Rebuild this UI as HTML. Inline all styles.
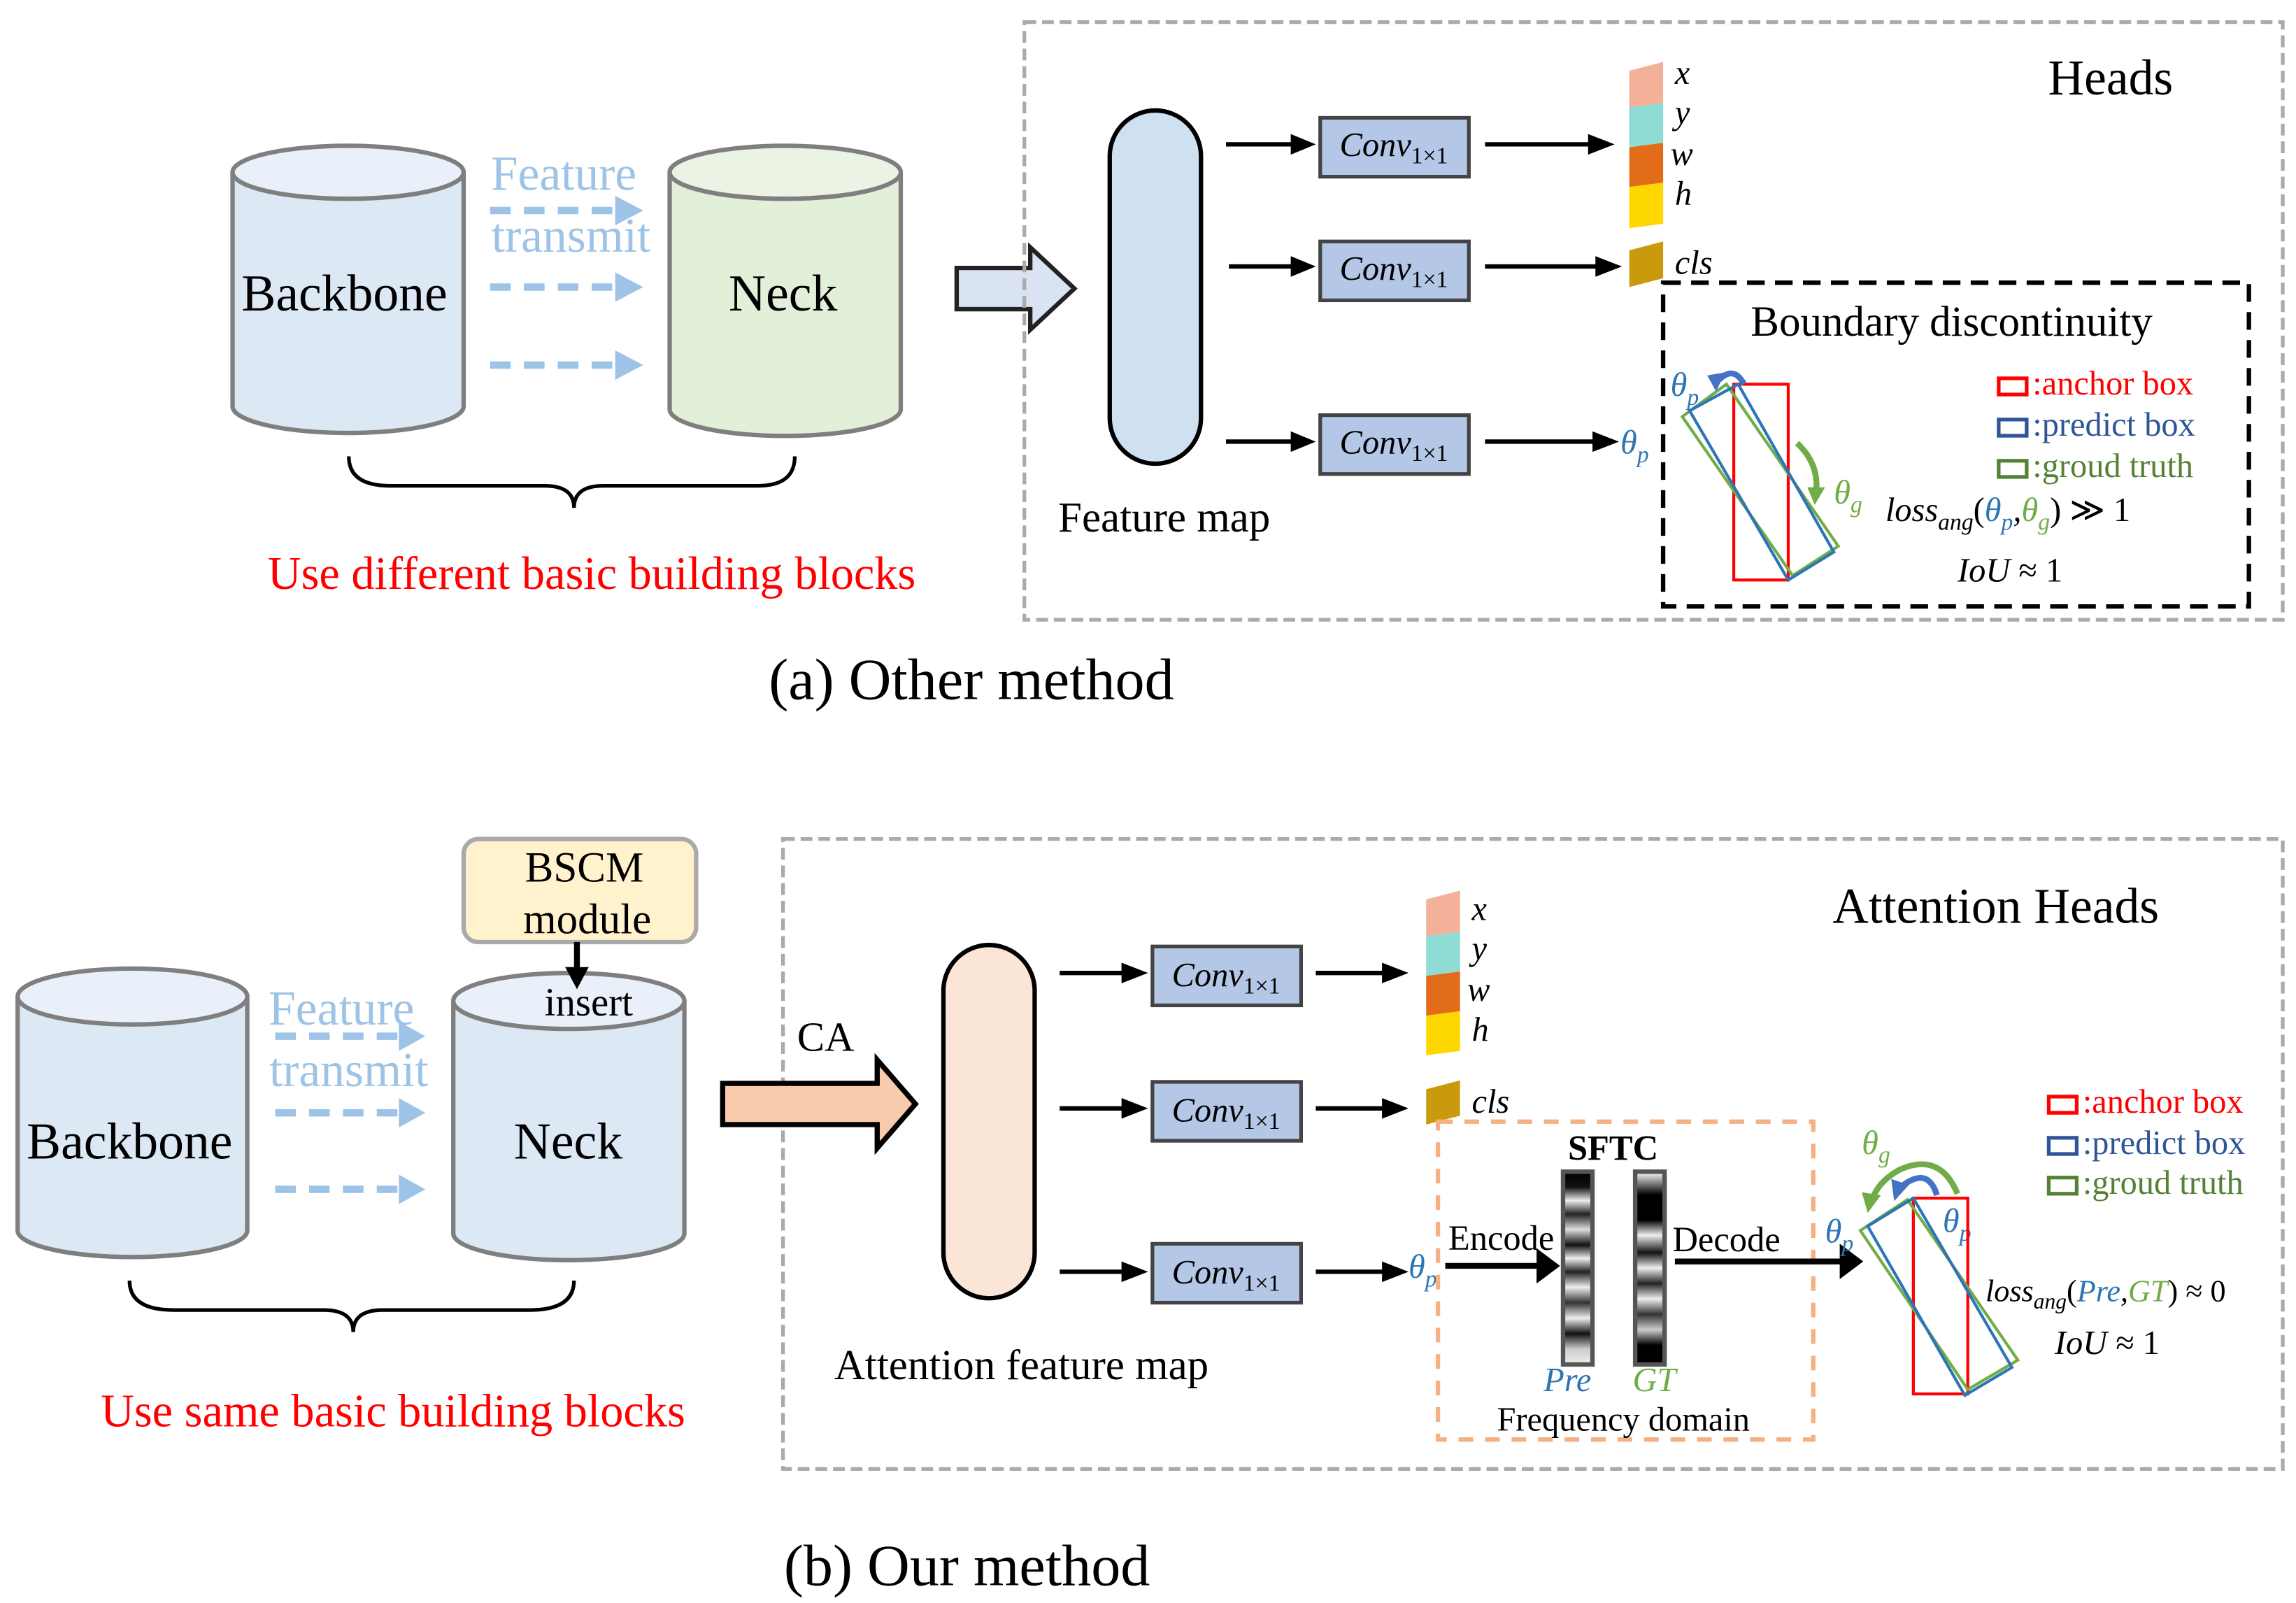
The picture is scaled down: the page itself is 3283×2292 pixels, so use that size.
<!DOCTYPE html>
<html><head><meta charset="utf-8"><style>html,body{margin:0;padding:0;background:#fff}svg{display:block}text{font-family:"Liberation Serif",serif}</style></head><body>
<svg width="3283" height="2292" viewBox="0 0 1560 1089" xmlns="http://www.w3.org/2000/svg">
<defs>
<linearGradient id="pre" x1="0" y1="0" x2="0" y2="1">
<stop offset="0" stop-color="#000"/><stop offset="0.08" stop-color="#111"/><stop offset="0.15" stop-color="#eee"/><stop offset="0.22" stop-color="#222"/><stop offset="0.3" stop-color="#ddd"/><stop offset="0.38" stop-color="#111"/><stop offset="0.45" stop-color="#eee"/><stop offset="0.52" stop-color="#222"/><stop offset="0.6" stop-color="#eee"/><stop offset="0.68" stop-color="#333"/><stop offset="0.76" stop-color="#eee"/><stop offset="0.84" stop-color="#111"/><stop offset="0.92" stop-color="#ccc"/><stop offset="1" stop-color="#eee"/></linearGradient>
<linearGradient id="gt" x1="0" y1="0" x2="0" y2="1">
<stop offset="0" stop-color="#fff"/><stop offset="0.12" stop-color="#000"/><stop offset="0.25" stop-color="#000"/><stop offset="0.33" stop-color="#eee"/><stop offset="0.42" stop-color="#111"/><stop offset="0.5" stop-color="#eee"/><stop offset="0.58" stop-color="#222"/><stop offset="0.66" stop-color="#eee"/><stop offset="0.74" stop-color="#333"/><stop offset="0.82" stop-color="#ccc"/><stop offset="0.9" stop-color="#000"/><stop offset="1" stop-color="#000"/></linearGradient>
</defs>

<!-- ========== (a) ========== -->
<g stroke="#7f7f7f" stroke-width="3">
<path d="M158,117 V276 A78,18 0 0 0 315,276 V117" fill="#dde8f5"/>
<ellipse cx="236.5" cy="117" rx="78.5" ry="18" fill="#e9f0f9"/>
<path d="M455,117 V278 A78,18 0 0 0 612,278 V117" fill="#e2efd9"/>
<ellipse cx="533.5" cy="117" rx="78.5" ry="18" fill="#ebf3e5"/>
</g>
<text x="234" y="211" font-size="35" text-anchor="middle">Backbone</text>
<text x="532" y="211" font-size="35" text-anchor="middle">Neck</text>
<g stroke="#9dc3e6" stroke-width="5" stroke-dasharray="14,9"><line x1="333" y1="143" x2="420" y2="143"/><line x1="333" y1="195" x2="420" y2="195"/><line x1="333" y1="248" x2="420" y2="248"/></g>
<g fill="#9dc3e6"><path d="M418,133 L437,143 L418,153Z"/><path d="M418,185 L437,195 L418,205Z"/><path d="M418,238 L437,248 L418,258Z"/></g>
<text x="383" y="129" font-size="33" fill="#9dc3e6" text-anchor="middle">Feature</text>
<text x="388" y="171" font-size="33" fill="#9dc3e6" text-anchor="middle">transmit</text>
<path d="M237,310 Q237,330 265,330 L370,330 Q390,330 390,345 Q390,330 410,330 L515,330 Q540,330 540,310" fill="none" stroke="#000" stroke-width="2.5"/>
<text x="402" y="400" font-size="31.5" fill="#ff0000" text-anchor="middle">Use different basic building blocks</text>
<path d="M650,182 L700,182 L700,168 L730,196 L700,224 L700,210 L650,210Z" fill="#dae3f3" stroke="#222" stroke-width="3"/>
<rect x="696" y="15" width="855" height="406" fill="none" stroke="#aaa" stroke-width="2.5" stroke-dasharray="8,4"/>
<text x="1434" y="64" font-size="34" text-anchor="middle">Heads</text>
<rect x="754" y="75" width="62" height="240" rx="31" fill="#cfe0f1" stroke="#000" stroke-width="3"/>
<text x="791" y="361" font-size="29" text-anchor="middle">Feature map</text>
<g fill="#b4c7e7" stroke="#444" stroke-width="2.5">
<rect x="897" y="80" width="101" height="40"/><rect x="897" y="164" width="101" height="40"/><rect x="897" y="282" width="101" height="40"/></g>
<g font-size="23" font-style="italic" text-anchor="middle">
<text x="947" y="106">Conv<tspan font-size="16" font-style="normal" dy="5">1×1</tspan></text>
<text x="947" y="190">Conv<tspan font-size="16" font-style="normal" dy="5">1×1</tspan></text>
<text x="947" y="308">Conv<tspan font-size="16" font-style="normal" dy="5">1×1</tspan></text></g>
<g stroke="#000" stroke-width="3"><line x1="833" y1="98" x2="880" y2="98"/><line x1="835" y1="181" x2="880" y2="181"/><line x1="833" y1="300" x2="880" y2="300"/><line x1="1009" y1="98" x2="1082" y2="98"/><line x1="1009" y1="181" x2="1087" y2="181"/><line x1="1009" y1="300" x2="1085" y2="300"/></g>
<g fill="#000"><path d="M877,91 L894,98 L877,105Z"/><path d="M877,174 L894,181 L877,188Z"/><path d="M877,293 L894,300 L877,307Z"/><path d="M1079,91 L1097,98 L1079,105Z"/><path d="M1084,174 L1102,181 L1084,188Z"/><path d="M1082,293 L1100,300 L1082,307Z"/></g>
<path d="M1107,48 L1130,42 L1130,70 L1107,73Z" fill="#f4b19a"/>
<path d="M1107,73 L1130,70 L1130,97 L1107,100Z" fill="#8fdcd5"/>
<path d="M1107,100 L1130,97 L1130,124 L1107,127Z" fill="#e36c1a"/>
<path d="M1107,127 L1130,124 L1130,152 L1107,155Z" fill="#ffd700"/>
<path d="M1107,170 L1130,164 L1130,189 L1107,195Z" fill="#c99a0e"/>
<g font-size="23" font-style="italic"><text x="1138" y="57">x</text><text x="1138" y="84">y</text><text x="1135" y="112">w</text><text x="1138" y="139">h</text><text x="1138" y="186">cls</text></g>
<text x="1101" y="308" font-size="23" font-style="italic" fill="#2e75b6">θ<tspan font-size="16" dy="6">p</tspan></text>
<rect x="1130" y="192" width="398" height="220" fill="none" stroke="#000" stroke-width="3" stroke-dasharray="12,7"/>
<text x="1326" y="228" font-size="29" text-anchor="middle">Boundary discontinuity</text>
<rect x="1178" y="261" width="37" height="133" fill="none" stroke="#ff0000" stroke-width="2"/>
<polygon points="1143,283 1173,261 1249,371 1218,391" fill="none" stroke="#70ad47" stroke-width="2"/>
<polygon points="1148,279 1181,261 1246,375 1215,394" fill="none" stroke="#2e75b6" stroke-width="2"/>
<path d="M1185,261 Q1178,248 1168,258" fill="none" stroke="#4472c4" stroke-width="4"/>
<path d="M1160,255 L1172,253 L1166,266Z" fill="#4472c4"/>
<path d="M1221,301 Q1236,315 1234,334" fill="none" stroke="#70ad47" stroke-width="4"/>
<path d="M1228,331 L1240,331 L1233,343Z" fill="#70ad47"/>
<text x="1135" y="269" font-size="23" font-style="italic" fill="#2e75b6">θ<tspan font-size="16" dy="6">p</tspan></text>
<text x="1246" y="342" font-size="23" font-style="italic" fill="#70ad47">θ<tspan font-size="16" dy="6">g</tspan></text>
<g stroke-width="2.5" fill="none"><rect x="1358" y="257" width="19" height="11" stroke="#ff0000"/><rect x="1358" y="285" width="19" height="11" stroke="#2f5597"/><rect x="1358" y="313" width="19" height="11" stroke="#548235"/></g>
<g font-size="23"><text x="1381" y="268" fill="#ff0000">:anchor box</text><text x="1381" y="296" fill="#2f5597">:predict box</text><text x="1381" y="324" fill="#548235">:groud truth</text></g>
<text x="1281" y="354" font-size="23" font-style="italic">loss<tspan font-size="16" dy="6">ang</tspan><tspan dy="-6" font-style="normal">(</tspan><tspan fill="#2e75b6">θ</tspan><tspan fill="#2e75b6" font-size="16" dy="6">p</tspan><tspan dy="-6">,</tspan><tspan fill="#70ad47">θ</tspan><tspan fill="#70ad47" font-size="16" dy="6">g</tspan><tspan dy="-6" font-style="normal">) ≫ 1</tspan></text>
<text x="1330" y="395" font-size="23" font-style="italic">IoU <tspan font-style="normal">≈ 1</tspan></text>
<text x="660" y="475" font-size="40" text-anchor="middle">(a) Other method</text>

<!-- ========== (b) ========== -->
<rect x="532" y="570" width="1019" height="428" fill="none" stroke="#aaa" stroke-width="2.5" stroke-dasharray="8,4"/>
<g stroke="#7f7f7f" stroke-width="3">
<path d="M12,677 V836 A78,18 0 0 0 168,836 V677" fill="#dde8f5"/>
<ellipse cx="90" cy="677" rx="78" ry="19" fill="#e9f0f9"/>
<path d="M308,680 V838 A78,18 0 0 0 465,838 V680" fill="#dde8f5"/>
<ellipse cx="386.5" cy="680" rx="78.5" ry="19" fill="#e9f0f9"/>
</g>
<rect x="315" y="570" width="158" height="70" rx="10" fill="#fff2cc" stroke="#aaa" stroke-width="3"/>
<text x="397" y="599" font-size="29" text-anchor="middle">BSCM</text>
<text x="399" y="634" font-size="29" text-anchor="middle">module</text>
<line x1="392" y1="640" x2="392" y2="660" stroke="#000" stroke-width="4"/>
<path d="M384,657 L392,672 L400,657Z" fill="#000"/>
<text x="400" y="690" font-size="27" text-anchor="middle">insert</text>
<text x="88" y="787" font-size="35" text-anchor="middle">Backbone</text>
<text x="386" y="787" font-size="35" text-anchor="middle">Neck</text>
<g stroke="#9dc3e6" stroke-width="5" stroke-dasharray="14,9"><line x1="187" y1="704" x2="272" y2="704"/><line x1="187" y1="756" x2="272" y2="756"/><line x1="187" y1="808" x2="272" y2="808"/></g>
<g fill="#9dc3e6"><path d="M271,694 L289,704 L271,714Z"/><path d="M271,746 L289,756 L271,766Z"/><path d="M271,798 L289,808 L271,818Z"/></g>
<text x="232" y="696" font-size="33" fill="#9dc3e6" text-anchor="middle">Feature</text>
<text x="237" y="738" font-size="33" fill="#9dc3e6" text-anchor="middle">transmit</text>
<path d="M88,870 Q88,890 118,890 L220,890 Q240,890 240,905 Q240,890 260,890 L360,890 Q390,890 390,870" fill="none" stroke="#000" stroke-width="2.5"/>
<text x="267" y="969" font-size="31.5" fill="#ff0000" text-anchor="middle">Use same basic building blocks</text>
<path d="M491,736 L596,736 L596,720 L622,750 L596,780 L596,764 L491,764Z" fill="#f8cbad" stroke="#000" stroke-width="3.5"/>
<text x="561" y="714" font-size="28" text-anchor="middle">CA</text>
<rect x="641" y="642" width="62" height="240" rx="31" fill="#fbe5d6" stroke="#000" stroke-width="3"/>
<text x="694" y="937" font-size="29" text-anchor="middle">Attention feature map</text>
<text x="1356" y="627" font-size="34" text-anchor="middle">Attention Heads</text>
<g fill="#b4c7e7" stroke="#444" stroke-width="2.5">
<rect x="783" y="643" width="101" height="40"/><rect x="783" y="735" width="101" height="40"/><rect x="783" y="845" width="101" height="40"/></g>
<g font-size="23" font-style="italic" text-anchor="middle">
<text x="833" y="670">Conv<tspan font-size="16" font-style="normal" dy="5">1×1</tspan></text>
<text x="833" y="762">Conv<tspan font-size="16" font-style="normal" dy="5">1×1</tspan></text>
<text x="833" y="872">Conv<tspan font-size="16" font-style="normal" dy="5">1×1</tspan></text></g>
<g stroke="#000" stroke-width="3"><line x1="720" y1="661" x2="765" y2="661"/><line x1="720" y1="753" x2="765" y2="753"/><line x1="720" y1="864" x2="765" y2="864"/><line x1="894" y1="661" x2="942" y2="661"/><line x1="894" y1="753" x2="942" y2="753"/><line x1="894" y1="864" x2="942" y2="864"/></g>
<g fill="#000"><path d="M762,654 L780,661 L762,668Z"/><path d="M762,746 L780,753 L762,760Z"/><path d="M762,857 L780,864 L762,871Z"/><path d="M939,654 L957,661 L939,668Z"/><path d="M939,746 L957,753 L939,760Z"/><path d="M939,857 L957,864 L939,871Z"/></g>
<path d="M969,611 L992,605 L992,633 L969,636Z" fill="#f4b19a"/>
<path d="M969,636 L992,633 L992,660 L969,663Z" fill="#8fdcd5"/>
<path d="M969,663 L992,660 L992,687 L969,690Z" fill="#e36c1a"/>
<path d="M969,690 L992,687 L992,714 L969,717Z" fill="#ffd700"/>
<path d="M969,740 L992,734 L992,758 L969,764Z" fill="#c99a0e"/>
<g font-size="23" font-style="italic"><text x="1000" y="625">x</text><text x="1000" y="652">y</text><text x="997" y="680">w</text><text x="1000" y="707">h</text><text x="1000" y="756">cls</text></g>
<text x="957" y="868" font-size="23" font-style="italic" fill="#2e75b6">θ<tspan font-size="16" dy="6">p</tspan></text>
<rect x="977" y="762" width="255" height="216" fill="none" stroke="#f4b183" stroke-width="3" stroke-dasharray="10,8"/>
<text x="1096" y="788" font-size="24" font-weight="bold" text-anchor="middle">SFTC</text>
<rect x="1062" y="796" width="20" height="131" fill="url(#pre)" stroke="#555" stroke-width="3"/>
<rect x="1111" y="796" width="20" height="131" fill="url(#gt)" stroke="#555" stroke-width="3"/>
<text x="1065" y="945" font-size="23" font-style="italic" fill="#2e75b6" text-anchor="middle">Pre</text>
<text x="1124" y="945" font-size="23" font-style="italic" fill="#70ad47" text-anchor="middle">GT</text>
<text x="1103" y="972" font-size="23" text-anchor="middle">Frequency domain</text>
<text x="1020" y="849" font-size="24" text-anchor="middle">Encode</text>
<text x="1173" y="850" font-size="24" text-anchor="middle">Decode</text>
<line x1="982" y1="860" x2="1046" y2="860" stroke="#000" stroke-width="4"/><path d="M1044,848 L1060,860 L1044,872Z" fill="#000"/>
<line x1="1138" y1="857" x2="1252" y2="857" stroke="#000" stroke-width="4"/><path d="M1250,845 L1266,857 L1250,869Z" fill="#000"/>
<text x="1240" y="844" font-size="23" font-style="italic" fill="#2e75b6">θ<tspan font-size="16" dy="6">p</tspan></text>
<text x="1320" y="837" font-size="23" font-style="italic" fill="#2e75b6">θ<tspan font-size="16" dy="6">p</tspan></text>
<text x="1265" y="784" font-size="23" font-style="italic" fill="#70ad47">θ<tspan font-size="16" dy="6">g</tspan></text>
<rect x="1300" y="814" width="37" height="133" fill="none" stroke="#ff0000" stroke-width="2"/>
<polygon points="1264,836 1296,815 1371,924 1337,944" fill="none" stroke="#70ad47" stroke-width="2"/>
<polygon points="1269,833 1300,814 1367,929 1335,948" fill="none" stroke="#2e75b6" stroke-width="2"/>
<path d="M1330,811 Q1318,782 1290,795 Q1276,803 1272,815" fill="none" stroke="#70ad47" stroke-width="4"/>
<path d="M1265,810 L1278,812 L1269,824Z" fill="#70ad47"/>
<path d="M1316,812 Q1310,792 1292,806" fill="none" stroke="#4472c4" stroke-width="4"/>
<path d="M1285,801 L1297,805 L1287,816Z" fill="#4472c4"/>
<g stroke-width="2.5" fill="none"><rect x="1392" y="745" width="19" height="11" stroke="#ff0000"/><rect x="1392" y="773" width="19" height="11" stroke="#2f5597"/><rect x="1392" y="800" width="19" height="11" stroke="#548235"/></g>
<g font-size="23"><text x="1415" y="756" fill="#ff0000">:anchor box</text><text x="1415" y="784" fill="#2f5597">:predict box</text><text x="1415" y="811" fill="#548235">:groud truth</text></g>
<text x="1349" y="884" font-size="21" font-style="italic">loss<tspan font-size="15" dy="5">ang</tspan><tspan dy="-5" font-style="normal">(</tspan><tspan fill="#2e75b6">Pre</tspan>,<tspan fill="#70ad47">GT</tspan><tspan font-style="normal">) ≈ 0</tspan></text>
<text x="1396" y="920" font-size="23" font-style="italic">IoU <tspan font-style="normal">≈ 1</tspan></text>
<text x="657" y="1077" font-size="40" text-anchor="middle">(b) Our method</text>
</svg>
</body></html>
